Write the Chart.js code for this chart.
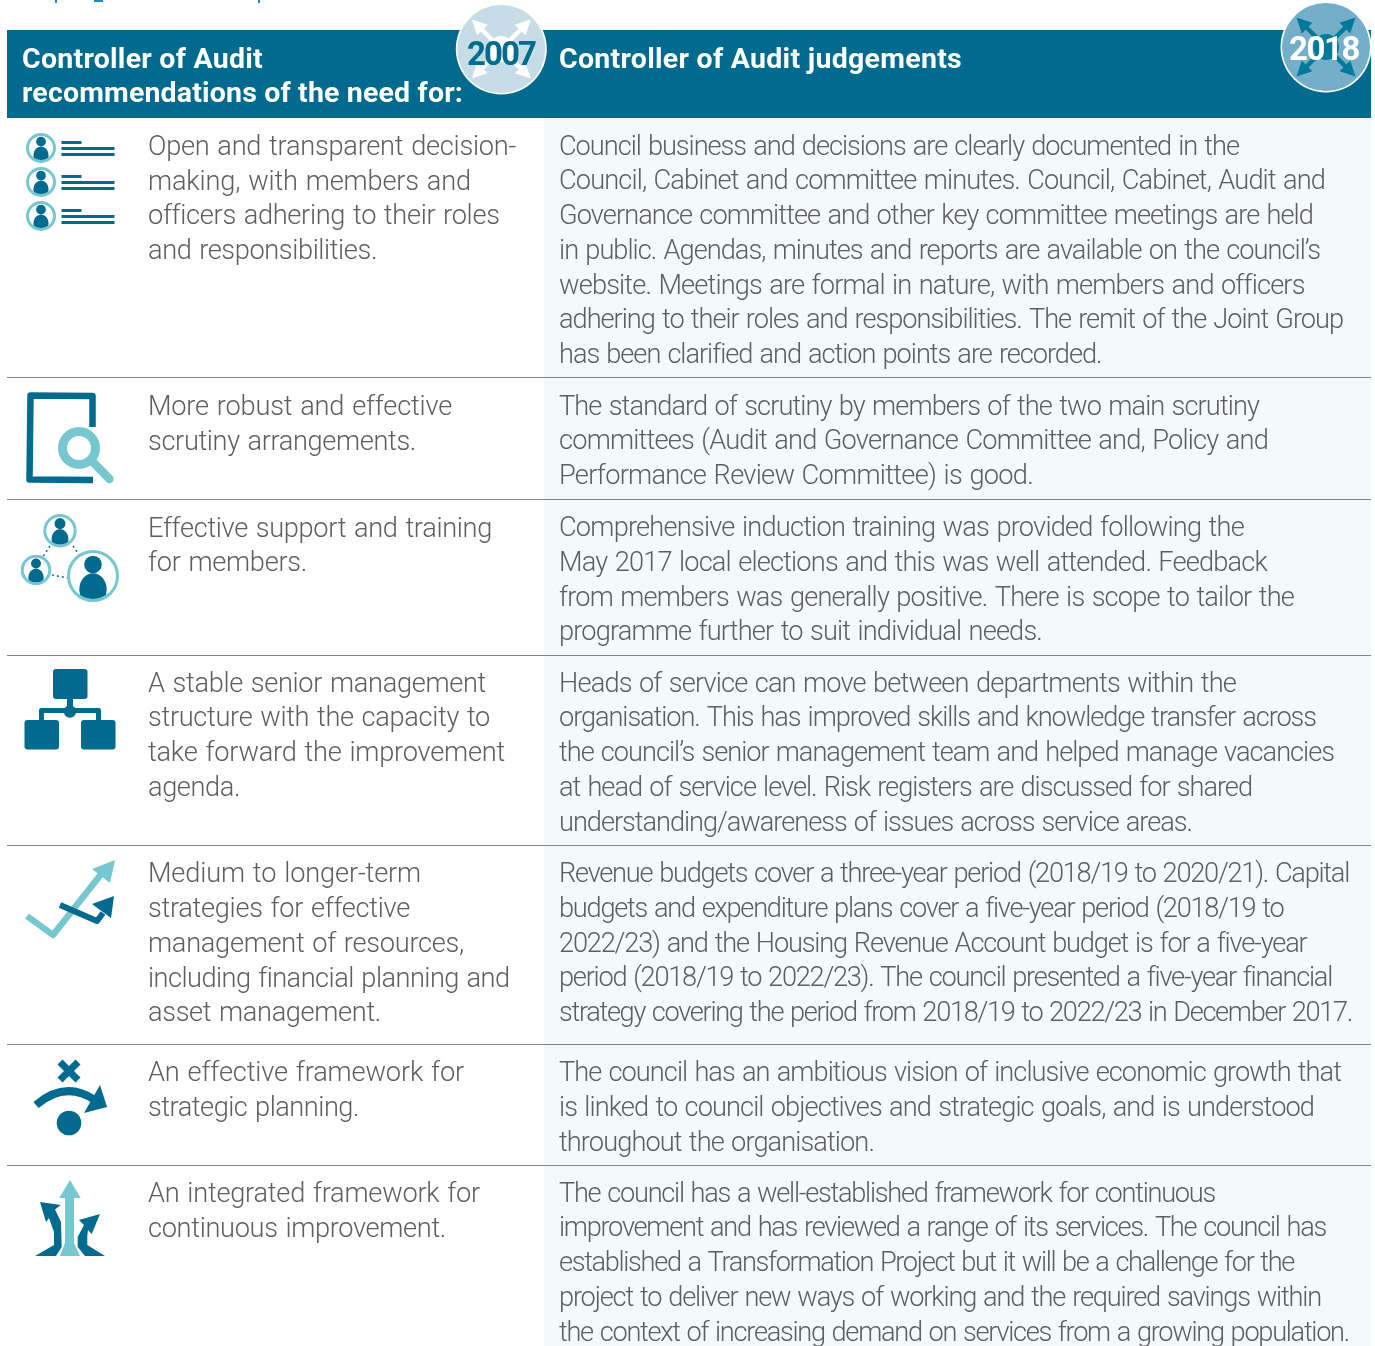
<!DOCTYPE html>
<html><head><meta charset="utf-8">
<script src="https://cdn.jsdelivr.net/npm/chart.js@4/dist/chart.umd.min.js"></script>
<style>html,body{margin:0;padding:0;background:#fff;overflow:hidden}#w{position:absolute;left:0;top:0;width:1375px;height:1346px}</style>
</head><body><div id="w"><canvas id="c" width="1375" height="1346"></canvas></div>
<script>
const headerLeft = ["Controller of Audit","recommendations of the need for:"];
const headerRight = "Controller of Audit judgements";
const yearLeft = "2007", yearRight = "2018";
const rowEdges = [118,377,499,655,845,1044,1165,1346];
const rowBaselinesLeft = [154.9,415,536.6,691.7,882.4,1081,1202];
const rowBaselinesRight = [154.7,414.6,536.2,691.7,882.1,1081.4,1201.7];
const leftText = [
 ["Open and transparent decision-","making, with members and","officers adhering to their roles","and responsibilities."],
 ["More robust and effective","scrutiny arrangements."],
 ["Effective support and training","for members."],
 ["A stable senior management","structure with the capacity to","take forward the improvement","agenda."],
 ["Medium to longer-term","strategies for effective","management of resources,","including financial planning and","asset management."],
 ["An effective framework for","strategic planning."],
 ["An integrated framework for","continuous improvement."]];
const leftEnds = [[516,471,498,377],[452,416],[492,307],[486,490,505,240],[421,410,464,509,381],[464,359],[480,446]];
const rightText = [
 ["Council business and decisions are clearly documented in the","Council, Cabinet and committee minutes. Council, Cabinet, Audit and","Governance committee and other key committee meetings are held","in public. Agendas, minutes and reports are available on the council\u2019s","website. Meetings are formal in nature, with members and officers","adhering to their roles and responsibilities. The remit of the Joint Group","has been clarified and action points are recorded."],
 ["The standard of scrutiny by members of the two main scrutiny","committees (Audit and Governance Committee and, Policy and","Performance Review Committee) is good."],
 ["Comprehensive induction training was provided following the","May 2017 local elections and this was well attended. Feedback","from members was generally positive. There is scope to tailor the","programme further to suit individual needs."],
 ["Heads of service can move between departments within the","organisation. This has improved skills and knowledge transfer across","the council\u2019s senior management team and helped manage vacancies","at head of service level. Risk registers are discussed for shared","understanding/awareness of issues across service areas."],
 ["Revenue budgets cover a three-year period (2018/19 to 2020/21). Capital","budgets and expenditure plans cover a five-year period (2018/19 to","2022/23) and the Housing Revenue Account budget is for a five-year","period (2018/19 to 2022/23). The council presented a five-year financial","strategy covering the period from 2018/19 to 2022/23 in December 2017."],
 ["The council has an ambitious vision of inclusive economic growth that","is linked to council objectives and strategic goals, and is understood","throughout the organisation."],
 ["The council has a well-established framework for continuous","improvement and has reviewed a range of its services. The council has","established a Transformation Project but it will be a challenge for the","project to deliver new ways of working and the required savings within","the context of increasing demand on services from a growing population."]];
const rightEnds = [[1239,1325,1313,1320,1303,1343,1101],[1259,1268,1033],[1244,1267,1294,1042],[1236,1316,1334,1252,1192],[1349,1283,1306,1331,1352],[1341,1314,874],[1215,1326,1294,1321,1349]];
const DARK="#006b8f", TEAL="#76c7d0", GREY="#5c5e60";
const LH=34.75;
function fit(c,t,x,b,end,ws){c.letterSpacing="0px";c.wordSpacing=(ws||0)+"px";const w=c.measureText(t).width;c.letterSpacing=((end-x-w)/t.length)+"px";c.fillText(t,x,b);c.letterSpacing="0px";c.wordSpacing="0px";}
function circle(c,x,y,r,fill){c.beginPath();c.arc(x,y,r,0,7);c.fillStyle=fill;c.fill();}
function poly(c,p,fill){c.beginPath();p.forEach((q,i)=>i?c.lineTo(q[0],q[1]):c.moveTo(q[0],q[1]));c.closePath();c.fillStyle=fill;c.fill();}
function stroke(c,p,col,w){c.beginPath();p.forEach((q,i)=>i?c.lineTo(q[0],q[1]):c.moveTo(q[0],q[1]));c.strokeStyle=col;c.lineWidth=w;c.stroke();}
function person(c,x,y,r){
 c.save();c.beginPath();c.arc(x,y,r,0,7);c.strokeStyle=TEAL;c.lineWidth=3;c.stroke();
 c.beginPath();c.arc(x,y,r-1.5,0,7);c.clip();
 circle(c,x,y-r*.47,r*.36,DARK);
 c.beginPath();c.ellipse(x,y+r*.55,r*.56,r*.66,0,0,7);c.fillStyle=DARK;c.fill();c.restore();
}
function burst(c,x,y,col){
 circle(c,x,y,13,col);
 [[-1,-1],[1,-1],[-1,1],[1,1]].forEach(d=>{
  const ex=x+d[0]*29.5,ey=y+d[1]*29.5,ca=d[0]*Math.SQRT1_2,sa=d[1]*Math.SQRT1_2;
  stroke(c,[[x,y],[ex-d[0]*8,ey-d[1]*8]],col,4.5);
  poly(c,[[ex,ey],[ex-15*ca+7.5*sa,ey-15*sa-7.5*ca],[ex-15*ca-7.5*sa,ey-15*sa+7.5*ca]],col);
 });
}
const painter={id:'painter',beforeDatasetsDraw(chart){
 const c=chart.ctx,sx=chart.scales.x,sy=chart.scales.y,X=v=>sx.getPixelForValue(v),Y=v=>sy.getPixelForValue(v);
 c.save();
 c.fillStyle="#1b8fbd";[[55,0,2,3],[94,0,9,2],[258,0,2,3]].forEach(r=>c.fillRect(...r));
 c.fillStyle="#f4fafa";c.fillRect(X(544),Y(118),X(1371)-X(544),Y(1346)-Y(118));
 c.fillStyle=DARK;c.fillRect(X(7),Y(30),X(1371)-X(7),Y(118)-Y(30));
 c.strokeStyle="#858585";c.lineWidth=1.2;
 rowEdges.slice(1,-1).forEach(e=>{c.beginPath();c.moveTo(X(7),Y(e)+.5);c.lineTo(X(1371),Y(e)+.5);c.stroke();});
 // header badges
 circle(c,501.3,49,45.5,"#fff");circle(c,501.3,49,44,"#c6dde8");burst(c,501.3,49,"#fff");
 circle(c,1326,47,45.5,"#fff");circle(c,1326,47,44,"#74aec8");burst(c,1326,47,"#007a9a");
 // text
 c.textBaseline="alphabetic";
 c.fillStyle="#fff";c.font="700 28.5px Roboto";
 fit(c,headerLeft[0],22,68,263);fit(c,headerLeft[1],22,102,463);fit(c,headerRight,559,68,962);
 c.font="700 33px Roboto";
 c.fillStyle=DARK;fit(c,yearLeft,467,65,535);c.fillStyle="#fff";fit(c,yearRight,1289,60,1359);
 c.font="300 27.2px Roboto";c.fillStyle=GREY;
 leftText.forEach((row,i)=>row.forEach((t,j)=>fit(c,t,148,rowBaselinesLeft[i]+j*LH,leftEnds[i][j],1.5)));
 rightText.forEach((row,i)=>row.forEach((t,j)=>fit(c,t,559,rowBaselinesRight[i]+j*LH,rightEnds[i][j],1.5)));
 drawIcons(c);
 c.restore();
}};
function drawIcons(c){
 [148,182,216].forEach(y=>{
  person(c,41,y,13.5);
  c.fillStyle=DARK;
  c.fillRect(61.5,y-7,20,3);c.fillRect(61.5,y-1,53,3);c.fillRect(61.5,y+5,53,3);
 });
 // document + magnifier
 c.lineJoin="round";
 stroke(c,[[92.5,427],[92.5,396],[30.5,395.5],[29.5,479.5],[93,480]],DARK,6.5);
 c.beginPath();c.arc(79,448,23,0,7);c.fillStyle="#fff";c.fill();
 stroke(c,[[95,462],[112,481]],"#fff",14);
 c.beginPath();c.arc(79,448,16.5,0,7);c.strokeStyle=TEAL;c.lineWidth=9;c.stroke();
 c.lineCap="round";
 stroke(c,[[91,460],[109.5,479]],TEAL,8.5);
 c.lineCap="butt";
 // network
 c.setLineDash([2,3]);c.lineWidth=1.5;c.strokeStyle=DARK;
 [[[50,546],[42,558]],[[73,546],[80,556]],[[52,575],[68,578]]].forEach(s=>{c.beginPath();c.moveTo(...s[0]);c.lineTo(...s[1]);c.stroke();});
 c.setLineDash([]);
 person(c,60,530.7,15.2);person(c,36,570,13.8);person(c,93,576,24.5);
 // org chart
 const rr=(x,y,w,h)=>{c.beginPath();c.roundRect(x,y,w,h,3);c.fillStyle=DARK;c.fill();};
 rr(53,669,34.5,30);rr(24.5,720,34.5,29.5);rr(81,720,34.5,29.5);
 stroke(c,[[70,699],[70,710]],DARK,6);
 stroke(c,[[41.5,720],[41.5,710.5],[98.5,710.5],[98.5,720]],DARK,5);
 circle(c,70,711.5,6.2,DARK);
 // trends
 poly(c,[[115,860],[110,883],[92,869]],TEAL);
 stroke(c,[[27,916],[53,935],[102,873]],TEAL,6.5);
 stroke(c,[[60,905],[97,921],[103,913]],DARK,6);
 poly(c,[[114,896],[111,918],[92,904]],DARK);
 // decision
 stroke(c,[[60,1062],[78,1080]],DARK,7);stroke(c,[[78,1062],[60,1080]],DARK,7);
 c.beginPath();c.moveTo(36,1105);c.quadraticCurveTo(65,1080,95,1100);c.strokeStyle=DARK;c.lineWidth=8;c.stroke();
 poly(c,[[100,1085],[107,1107],[84,1113]],DARK);
 circle(c,69,1123,12.3,DARK);
 // arrows
 poly(c,[[70,1180],[80.7,1198],[74,1198],[74,1243],[80,1256],[60,1256],[65,1243],[65,1198],[59.3,1198]],TEAL);
 poly(c,[[40,1202],[60.7,1205],[55,1209.5],[61,1222],[61.7,1247],[56,1256],[35,1256],[54,1245],[54,1232],[49,1218],[46,1222]],DARK);
 poly(c,[[100,1214],[91.7,1234],[88,1230],[87.3,1236],[87.3,1245],[105,1256],[85,1256],[77.7,1247],[77.7,1237],[84,1225],[79,1220]],DARK);
}
new Chart(document.getElementById('c'),{
 type:'scatter',
 data:{datasets:[{data:[],pointRadius:0}]},
 plugins:[painter],
 options:{responsive:false,animation:false,layout:{padding:0},
  plugins:{legend:{display:false},tooltip:{enabled:false}},
  scales:{
   x:{type:'linear',display:false,min:0,max:1375},
   y:{type:'linear',display:false,min:0,max:1346,reverse:true}}}
});
</script></body></html>
